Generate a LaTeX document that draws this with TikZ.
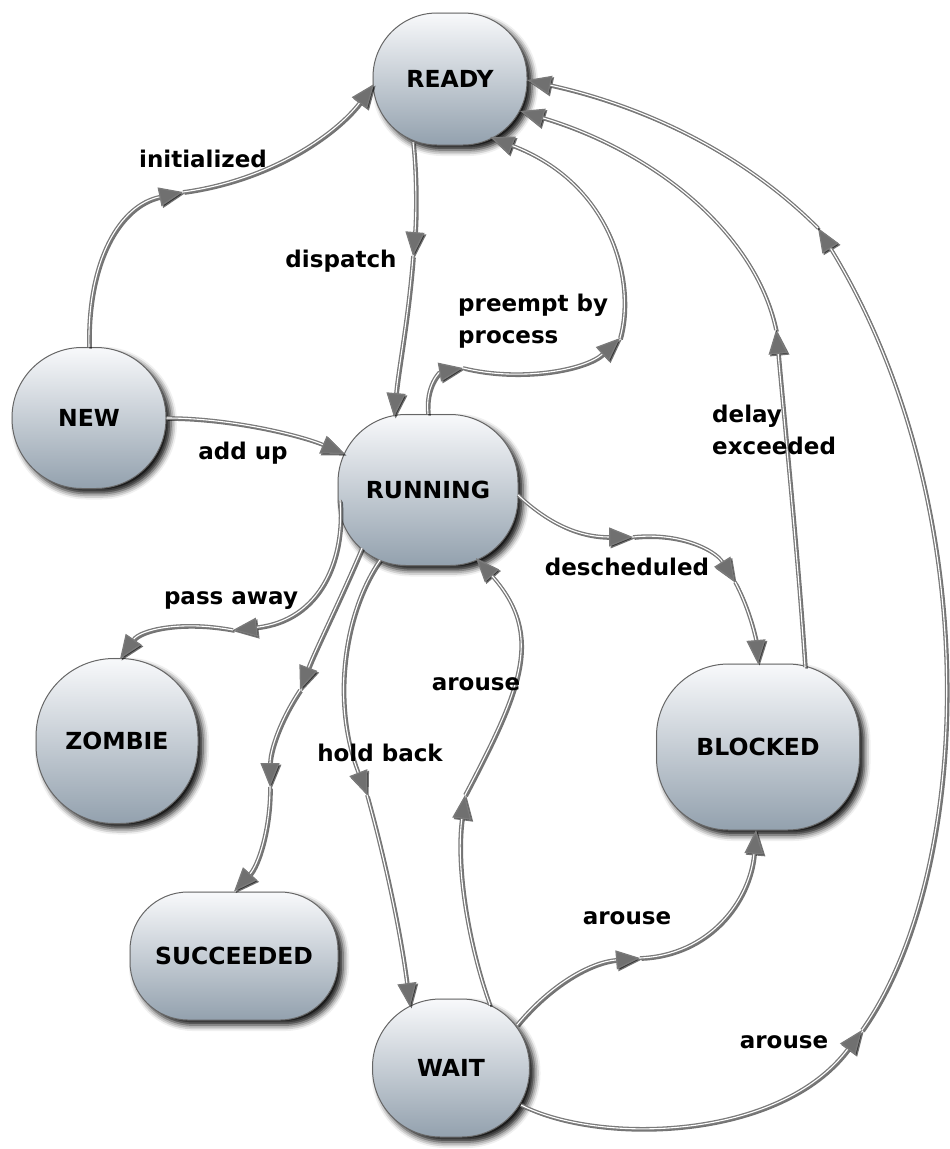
\documentclass[tikz,border=0pt]{standalone}
\usepackage{fontspec}
\setmainfont{DejaVu Sans}
\usetikzlibrary{arrows.meta,shadows,shadows.blur}
\definecolor{linegray}{HTML}{7A7A7A}
\definecolor{arrowgray}{HTML}{707070}
\definecolor{topc}{HTML}{F8F9FB}
\definecolor{botc}{HTML}{93A1AE}
\definecolor{edgec}{HTML}{666666}
\begin{document}
\begin{tikzpicture}[x=1pt,y=-1pt,
  st/.style={rounded corners=#1, draw=edgec, line width=1pt, top color=topc, bottom color=botc,
    inner sep=0pt, font=\fontsize{23.5}{28}\selectfont\bfseries,
    blur shadow={shadow xshift=5pt, shadow yshift=-5pt, shadow blur radius=6pt, shadow opacity=95}},
  lab/.style={font=\fontsize{23}{32}\selectfont\bfseries, inner sep=0pt, align=left},
  conn/.style={
    preaction={draw=black, opacity=0.55, line width=2.5pt,
      transform canvas={xshift=1.6pt, yshift=-1.6pt},
      -{Triangle[length=24pt,width=19pt,fill=black]}},
    draw=linegray, line width=1.3pt, double=white, double distance=1.1pt,
    -{Triangle[length=24pt,width=19pt,fill=arrowgray]}}
]
\useasboundingbox (0,0) rectangle (950,1149);

% states
\node[st=64pt, minimum width=154pt, minimum height=132pt] (ready) at (450,79) {READY};
\node[st=70pt, minimum width=154pt, minimum height=141pt] (new) at (89,418) {NEW};
\node[st=68pt, minimum width=180pt, minimum height=151pt] (running) at (428,490) {RUNNING};
\node[st=78pt, minimum width=162pt, minimum height=165pt] (zombie) at (117,741) {ZOMBIE};
\node[st=58pt, minimum width=208pt, minimum height=128pt] (succeeded) at (234,956) {SUCCEEDED};
\node[st=68pt, minimum width=157pt, minimum height=138pt] (wait) at (451,1068) {WAIT};
\node[st=72pt, minimum width=203pt, minimum height=166pt] (blocked) at (758,747) {BLOCKED};

% waypoints
\coordinate (m1) at (183,192);
\coordinate (m2) at (413,256);
\coordinate (m3a) at (463,368);
\coordinate (m3b) at (620,338);
\coordinate (m5a) at (633,537);
\coordinate (m5b) at (735,582);
\coordinate (m6) at (776,330);
\coordinate (m7a) at (862,1030);
\coordinate (m7b) at (818,228);
\coordinate (m8) at (640,958);
\coordinate (m9) at (465,795);
\coordinate (m10) at (367,795);
\coordinate (m11a) at (300,690);
\coordinate (m11b) at (270,787);
\coordinate (m12) at (233,630);

% initialized
\draw[conn] (new.north) .. controls (87,260) and (120,205) .. (m1);
\draw[conn] (m1) .. controls (270,180) and (335,135) .. ([shift={(-76,5)}]ready.center);
% dispatch
\draw[conn] ([shift={(-37,63)}]ready.center) .. controls (417,180) and (416,220) .. (m2);
\draw[conn] (m2) .. controls (408,320) and (398,370) .. ([shift={(-34,-73)}]running.center);
% preempt by process
\draw[conn] (running.north) .. controls (425,385) and (440,372) .. (m3a);
\draw[conn] (m3a) .. controls (520,382) and (585,370) .. (m3b);
\draw[conn] (m3b) .. controls (635,285) and (615,185) .. ([shift={(40,58)}]ready.center);
% add up
\draw[conn] (new.east) .. controls (230,418) and (300,435) .. ([shift={(-83,-36)}]running.center);
% descheduled
\draw[conn] ([shift={(90,5)}]running.center) .. controls (550,525) and (580,537) .. (m5a);
\draw[conn] (m5a) .. controls (680,532) and (715,550) .. (m5b);
\draw[conn] (m5b) .. controls (750,610) and (756,640) .. ([shift={(0,-83)}]blocked.center);
% delay exceeded
\draw[conn] ([shift={(47,-80)}]blocked.center) .. controls (798,560) and (785,430) .. (m6);
\draw[conn] (m6) .. controls (755,230) and (650,150) .. ([shift={(70,32)}]ready.center);
% arouse (wait -> ready)
\draw[conn] ([shift={(70,37)}]wait.center) .. controls (600,1145) and (780,1140) .. (m7a);
\draw[conn] (m7a) .. controls (975,870) and (985,500) .. (m7b);
\draw[conn] (m7b) .. controls (740,150) and (640,105) .. ([shift={(77,1)}]ready.center);
% arouse (wait -> blocked)
\draw[conn] ([shift={(66,-43)}]wait.center) .. controls (550,985) and (590,962) .. (m8);
\draw[conn] (m8) .. controls (710,955) and (750,900) .. ([shift={(-2,83)}]blocked.center);
% arouse (wait -> running)
\draw[conn] ([shift={(39,-63)}]wait.center) .. controls (470,950) and (455,870) .. (m9);
\draw[conn] (m9) .. controls (520,690) and (545,635) .. ([shift={(48,68)}]running.center);
% hold back
\draw[conn] ([shift={(-48,70)}]running.center) .. controls (345,610) and (330,700) .. (m10);
\draw[conn] (m10) .. controls (385,860) and (400,930) .. ([shift={(-41,-61)}]wait.center);
% running -> succeeded
\draw[conn] ([shift={(-66,58)}]running.center) .. controls (340,600) and (315,650) .. (m11a);
\draw[conn] (m11a) .. controls (280,720) and (270,750) .. (m11b);
\draw[conn] (m11b) .. controls (270,830) and (258,865) .. (succeeded.north);
% pass away
\draw[conn] ([shift={(-88,10)}]running.center) .. controls (345,560) and (320,620) .. (m12);
\draw[conn] (m12) .. controls (180,620) and (140,630) .. ([shift={(3,-82)}]zombie.center);

% labels
\node[lab] (l1) at (203,159) {initialized};
\node[lab] (l2) at (341,261) {dispatch};
\node[lab, anchor=west] (l3) at (458,321) {preempt by\\process};
\node[lab] (l4) at (243,453) {add up};
\node[lab, anchor=west] (l5) at (712,430) {delay\\exceeded};
\node[lab] (l6) at (627,567) {descheduled};
\node[lab] (l7) at (231,601) {pass away};
\node[lab] (l8) at (476,684) {arouse};
\node[lab] (l9) at (380,753) {hold back};
\node[lab] (l10) at (627,918) {arouse};
\node[lab] (l11) at (784,1042) {arouse};
\end{tikzpicture}
\end{document}
